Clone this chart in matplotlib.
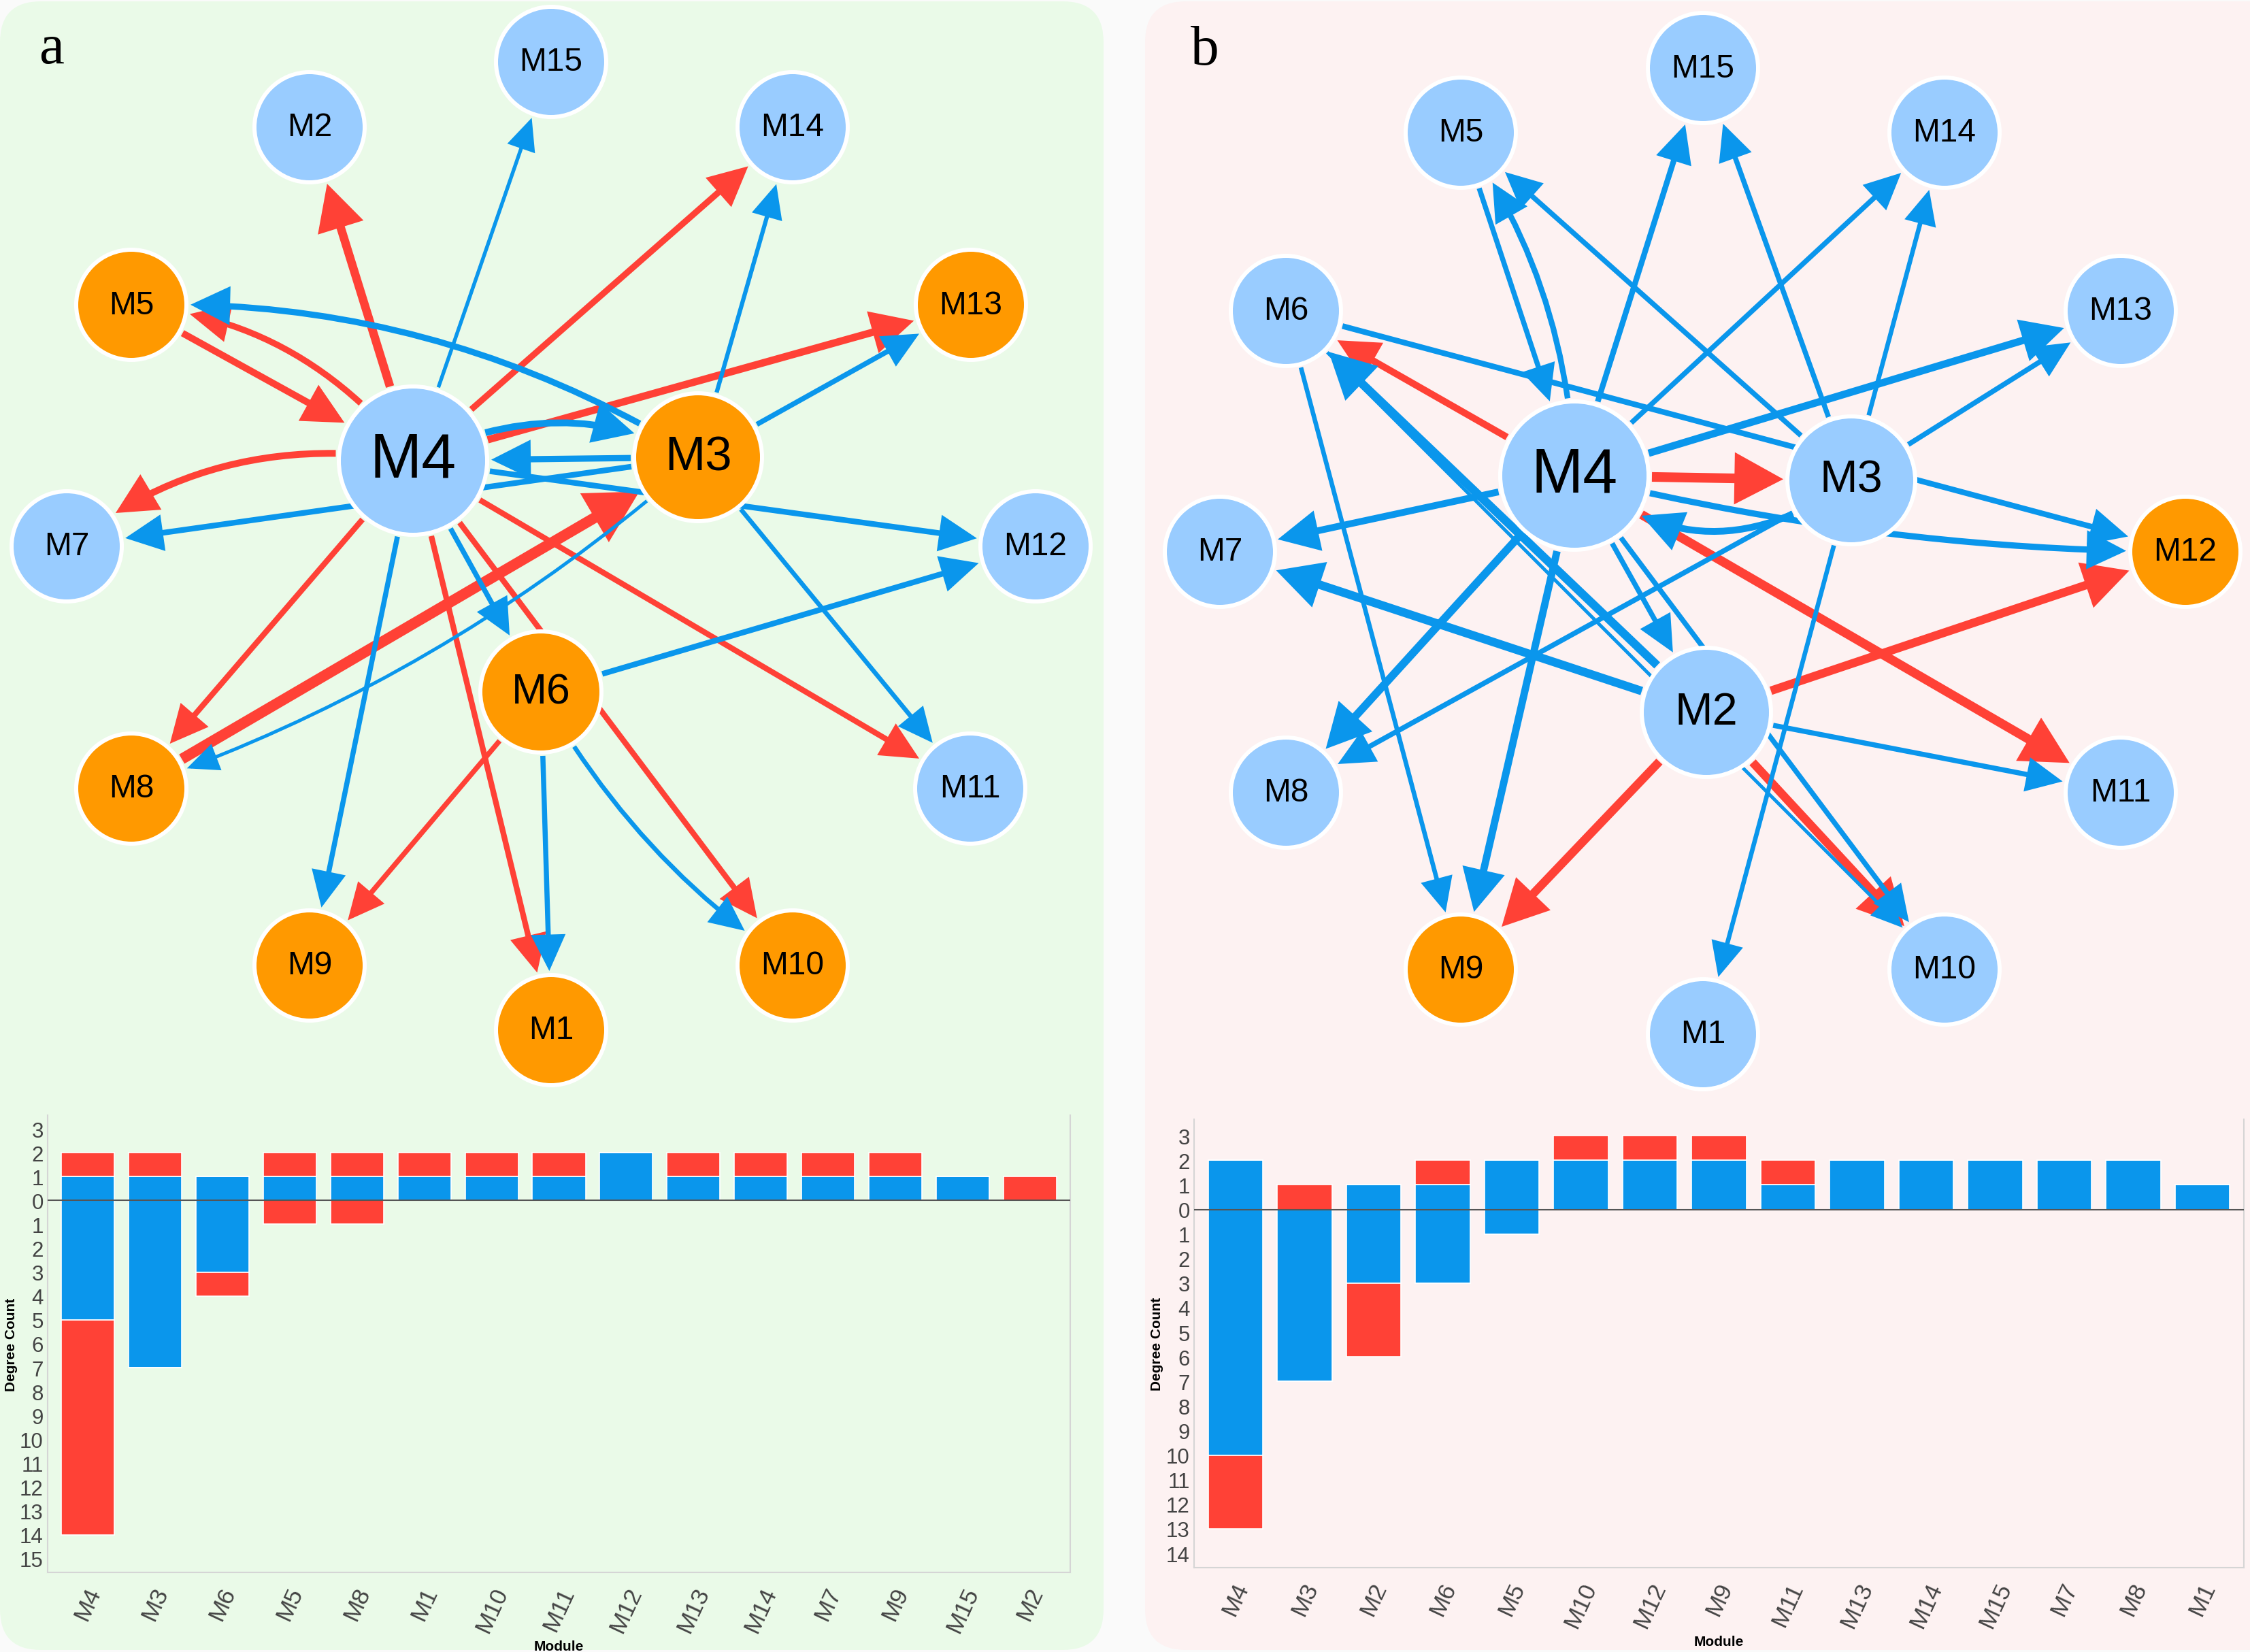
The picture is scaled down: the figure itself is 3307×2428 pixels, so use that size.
import matplotlib
matplotlib.use('Agg')
import matplotlib.pyplot as plt
from matplotlib.patches import Circle, FancyArrowPatch, FancyBboxPatch, ArrowStyle

plt.rcParams['font.family'] = ['Liberation Sans', 'DejaVu Sans']

# ------------------------------------------------------------------ data
# degree bar charts (in-degree shown upward, out-degree shown downward)
modules_a = ['M4', 'M3', 'M6', 'M5', 'M8', 'M1', 'M10', 'M11', 'M12', 'M13', 'M14', 'M7', 'M9', 'M15', 'M2']
in_blue_a = [1, 1, 1, 1, 1, 1, 1, 1, 2, 1, 1, 1, 1, 1, 0]
in_red_a = [1, 1, 0, 1, 1, 1, 1, 1, 0, 1, 1, 1, 1, 0, 1]
out_blue_a = [5, 7, 3, 0, 0, 0, 0, 0, 0, 0, 0, 0, 0, 0, 0]
out_red_a = [9, 0, 1, 1, 1, 0, 0, 0, 0, 0, 0, 0, 0, 0, 0]

modules_b = ['M4', 'M3', 'M2', 'M6', 'M5', 'M10', 'M12', 'M9', 'M11', 'M13', 'M14', 'M15', 'M7', 'M8', 'M1']
in_blue_b = [2, 0, 1, 1, 2, 2, 2, 2, 1, 2, 2, 2, 2, 2, 1]
in_red_b = [0, 1, 0, 1, 0, 1, 1, 1, 1, 0, 0, 0, 0, 0, 0]
out_blue_b = [10, 7, 3, 3, 1, 0, 0, 0, 0, 0, 0, 0, 0, 0, 0]
out_red_b = [3, 0, 3, 0, 0, 0, 0, 0, 0, 0, 0, 0, 0, 0, 0]

# network edges: source, target, kind ('r' = red, 'b' = blue)
src_a = ['M4', 'M4', 'M4', 'M4', 'M4', 'M4', 'M4', 'M4', 'M4', 'M5', 'M8', 'M6',
         'M4', 'M4', 'M3', 'M3', 'M4', 'M4', 'M4', 'M3', 'M3', 'M3', 'M3', 'M3', 'M6', 'M6', 'M6']
dst_a = ['M2', 'M14', 'M13', 'M5', 'M7', 'M8', 'M1', 'M10', 'M11', 'M4', 'M3', 'M9',
         'M15', 'M3', 'M4', 'M7', 'M12', 'M9', 'M6', 'M5', 'M14', 'M13', 'M11', 'M8', 'M1', 'M10', 'M12']
kind_a = ['r'] * 12 + ['b'] * 15

src_b = ['M4', 'M4', 'M4', 'M2', 'M2', 'M2',
         'M5', 'M4', 'M3', 'M4', 'M3', 'M4', 'M3', 'M4', 'M3', 'M6', 'M4', 'M3', 'M4', 'M2',
         'M4', 'M3', 'M4', 'M6', 'M4', 'M2', 'M4', 'M6', 'M2', 'M3']
dst_b = ['M6', 'M3', 'M11', 'M12', 'M9', 'M10',
         'M4', 'M5', 'M5', 'M15', 'M15', 'M14', 'M14', 'M13', 'M13', 'M12', 'M12', 'M4', 'M7', 'M7',
         'M8', 'M8', 'M9', 'M9', 'M2', 'M6', 'M10', 'M10', 'M11', 'M1']
kind_b = ['r'] * 6 + ['b'] * 24

orange_a = ['M5', 'M13', 'M3', 'M6', 'M8', 'M9', 'M10', 'M1']
orange_b = ['M12', 'M9']

# ------------------------------------------------------------------ layout / style
W, H = 3307, 2429
pos_a = {'M15': (810, 92), 'M2': (455, 188), 'M14': (1165, 188), 'M5': (193, 449),
         'M13': (1427, 449), 'M4': (607, 678), 'M3': (1026, 673), 'M7': (98, 804),
         'M12': (1522, 804), 'M6': (795, 1018), 'M8': (193, 1160), 'M11': (1426, 1160),
         'M9': (455, 1420), 'M10': (1165, 1420), 'M1': (810, 1515)}
pos_b = {'M15': (2503, 101), 'M5': (2147, 196), 'M14': (2858, 196), 'M6': (1890, 458),
         'M13': (3117, 458), 'M4': (2314, 700), 'M3': (2721, 707), 'M7': (1793, 812),
         'M12': (3212, 812), 'M2': (2508, 1048), 'M8': (1890, 1166), 'M11': (3117, 1166),
         'M9': (2147, 1426), 'M10': (2858, 1426), 'M1': (2503, 1521)}
rad_a_nodes = {'M4': 112, 'M3': 97, 'M6': 92}
rad_b_nodes = {'M4': 112, 'M3': 97, 'M2': 98}
fs_a_nodes = {'M4': 22, 'M3': 17, 'M6': 15}
fs_b_nodes = {'M4': 22, 'M3': 16, 'M2': 16}
small_r = 84
small_fs = 11.5

w_a = [3.0, 2.2, 2.6, 2.2, 2.4, 2.0, 2.0, 2.0, 2.0, 2.4, 3.8, 1.8,
       1.3, 2.4, 2.2, 2.0, 2.0, 1.8, 1.8, 2.2, 1.5, 1.8, 1.6, 1.2, 1.8, 1.6, 2.0]
r_a = [0, 0, 0, 0.22, 0.22, 0, 0, 0, 0, 0, 0, 0,
       0, -0.25, 0, 0, 0, 0, 0, 0.15, 0, 0, 0, -0.1, 0, 0.12, 0]
w_b = [2.4, 3.4, 3.2, 3.0, 3.0, 3.0,
       1.8, 2.0, 1.8, 2.0, 1.8, 1.8, 1.6, 2.6, 1.8, 2.0, 2.2, 2.4, 2.4, 3.0,
       2.8, 1.8, 2.6, 1.6, 1.8, 3.0, 1.8, 1.2, 1.8, 1.6]
r_b = [0, 0, 0, 0, 0, 0,
       0, 0.15, 0, 0, 0, 0, 0, 0, 0, 0, 0.06, -0.38, 0, 0,
       0, 0, 0, 0, 0, 0, 0, 0, 0, 0]

RED = '#FF4136'
BLUE = '#0A96EC'
NODE_BLUE = '#99CCFF'
NODE_ORANGE = '#FF9900'
PT = 72.0 / 300.0   # points per pixel

fig = plt.figure(figsize=(W / 300, H / 300), dpi=300)
fig.patch.set_facecolor('#FAFAFA')
ax = fig.add_axes([0, 0, 1, 1])
ax.set_xlim(0, W)
ax.set_ylim(H, 0)
ax.axis('off')

ax.add_patch(FancyBboxPatch((0, 3), 1622, 2423, boxstyle='round,pad=0,rounding_size=60',
                            fc='#EAFAE8', ec='none', zorder=0))
ax.add_patch(FancyBboxPatch((1683, 3), 1680, 2423, boxstyle='round,pad=0,rounding_size=60',
                            fc='#FDF2F2', ec='none', zorder=0))

ax.text(57, 93, 'a', family=['Liberation Serif', 'DejaVu Serif'], fontsize=20, va='baseline', zorder=5)
ax.text(1750, 95, 'b', family=['Liberation Serif', 'DejaVu Serif'], fontsize=20, va='baseline', zorder=5)


def draw_network(pos, big_r, big_fs, orange, src, dst, kind, widths, rads):
    def radius(n):
        return big_r.get(n, small_r)
    for s, d, k, w, rr in zip(src, dst, kind, widths, rads):
        col = RED if k == 'r' else BLUE
        style = ArrowStyle('-|>', head_length=7.5 + 1.3 * w, head_width=2.8 + 1.05 * w)
        arr = FancyArrowPatch(pos[s], pos[d], arrowstyle=style,
                              connectionstyle=f'arc3,rad={rr}',
                              shrinkA=(radius(s) + 2) * PT, shrinkB=(radius(d) + 3) * PT,
                              lw=w, color=col, mutation_scale=1, zorder=2,
                              capstyle='butt', joinstyle='miter')
        ax.add_patch(arr)
    for n, (x, y) in pos.items():
        r = radius(n)
        fc = NODE_ORANGE if n in orange else NODE_BLUE
        ax.add_patch(Circle((x, y), r - 3, fc=fc, ec='white', lw=6 * PT, zorder=3))
        ax.text(x, y, n, ha='center', va='center', fontsize=big_fs.get(n, small_fs),
                color='black', zorder=4)


draw_network(pos_a, rad_a_nodes, fs_a_nodes, orange_a, src_a, dst_a, kind_a, w_a, r_a)
draw_network(pos_b, rad_b_nodes, fs_b_nodes, orange_b, src_b, dst_b, kind_b, w_b, r_b)


def draw_bars(rect, modules, ib, ir, ob, orr, ylim, ymax_tick):
    bx = fig.add_axes(rect)
    bx.set_facecolor('none')
    x = list(range(len(modules)))
    down_blue = [-v for v in ob]
    down_red = [-v for v in orr]
    bx.bar(x, ib, width=0.79, color=BLUE, edgecolor='white', linewidth=0.4, zorder=2)
    bx.bar(x, ir, bottom=ib, width=0.79, color=RED, edgecolor='white', linewidth=0.4, zorder=2)
    bx.bar(x, down_blue, width=0.79, color=BLUE, edgecolor='white', linewidth=0.4, zorder=2)
    bx.bar(x, down_red, bottom=down_blue, width=0.79, color=RED, edgecolor='white', linewidth=0.4, zorder=2)
    bx.axhline(0, color='#555555', lw=0.5, zorder=3)
    bx.set_xlim(-0.6, len(modules) - 0.4)
    bx.set_ylim(*ylim)
    ticks = list(range(-ymax_tick, 4))
    bx.set_yticks(ticks)
    bx.set_yticklabels([str(abs(t)) for t in ticks], fontsize=7.5, color='#444444')
    bx.set_xticks(x)
    bx.set_xticklabels(modules, rotation=65, ha='center', va='top', fontsize=8.5, color='#444444')
    bx.tick_params(axis='both', length=0)
    bx.tick_params(axis='y', pad=1.5)
    bx.tick_params(axis='x', pad=4)
    for sp in ['left', 'right', 'bottom']:
        bx.spines[sp].set_color('#D5D5D5')
        bx.spines[sp].set_linewidth(0.5)
    bx.spines['top'].set_visible(False)
    bx.set_xlabel('Module', fontsize=5, fontweight='bold', labelpad=1.5)
    bx.set_ylabel('Degree Count', fontsize=5, fontweight='bold')
    bx.yaxis.set_label_coords(-0.029, 0.5)
    return bx


bxa = draw_bars([70 / W, 1 - 2312 / H, (1573 - 70) / W, (2312 - 1640) / H],
                modules_a, in_blue_a, in_red_a, out_blue_a, out_red_a, (-15.57, 3.57), 15)
bxb = draw_bars([1755 / W, 1 - 2305 / H, (3298 - 1755) / W, (2305 - 1646) / H],
                modules_b, in_blue_b, in_red_b, out_blue_b, out_red_b, (-14.58, 3.67), 14)

fig.savefig('out.png', dpi=300, facecolor=fig.get_facecolor())
